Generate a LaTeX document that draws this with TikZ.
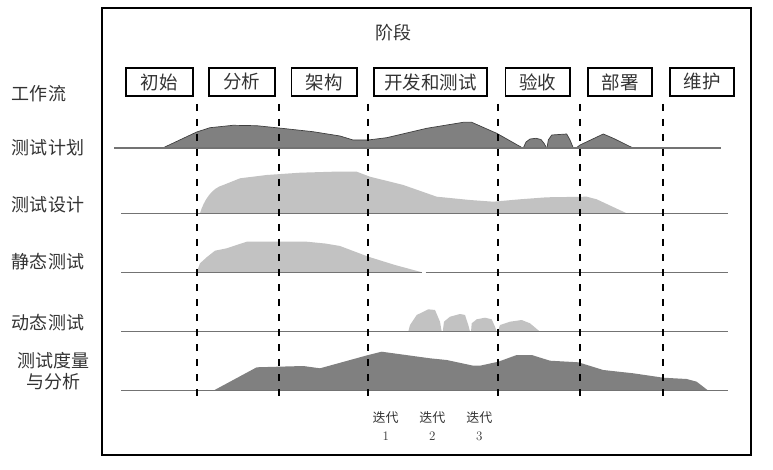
\documentclass[tikz,border=0pt]{standalone}
\usepackage{fontspec}
\newfontfamily\cjk{Noto Sans CJK SC}
\begin{document}
\begin{tikzpicture}[x=1pt,y=-1pt,
  lbl/.style={font=\cjk\fontsize{18}{21}\selectfont, text=black!80, inner sep=0pt, align=center},
  small/.style={font=\cjk\fontsize{13}{18}\selectfont, text=black!80, inner sep=0pt, align=center},
  phase/.style={draw=black, line width=1.6pt, font=\cjk\fontsize{18.5}{20}\selectfont, minimum height=28pt, inner sep=0pt, text=black!80},
  base/.style={draw=black!55, line width=1.3pt},
  divider/.style={draw=black, line width=1.8pt, dash pattern=on 7pt off 8pt},
  darkfill/.style={fill=black!50, draw=black!75, line width=0.7pt, line join=round},
  metricfill/.style={fill=black!50, draw=none},
  lightfill/.style={fill=black!24, draw=none}]
\useasboundingbox (0,0) rectangle (773,470);
\draw[line width=1.8pt] (102,8) rectangle (751,455);

% title and phases
\node[lbl] (stage) at (393,33) {阶段};
\node[phase, minimum width=66.6pt] (p1) at (159.4,82) {初始};
\node[phase, minimum width=66.2pt] (p2) at (241.8,82) {分析};
\node[phase, minimum width=65.3pt] (p3) at (324.3,82) {架构};
\node[phase, minimum width=113pt] (p4) at (430.4,82) {开发和测试};
\node[phase, minimum width=64.5pt] (p5) at (537.6,82) {验收};
\node[phase, minimum width=64pt] (p6) at (620,82) {部署};
\node[phase, minimum width=64.5pt] (p7) at (702,82) {维护};

% workflow labels
\node[lbl] (wf) at (39,93.3) {工作流};
\node[lbl] (w1) at (48,148) {测试计划};
\node[lbl] (w2) at (48,205) {测试设计};
\node[lbl] (w3) at (48,262) {静态测试};
\node[lbl] (w4) at (48,323) {动态测试};
\node[lbl] (w5) at (53.5,371.5) {测试度量\\与分析};

% test planning (dark, outlined)
\path[darkfill] (162.7,148) -- (196.7,132) -- (210,127.7) -- (233,125.3) -- (256.7,125.7) -- (279,128) -- (313,131.7) -- (340,136) -- (353,140) -- (368,140) -- (386.7,137.7) -- (426.7,128.3) -- (463.3,122.3) -- (471.7,122.3) -- (496.7,133.3) -- (522.7,148) -- cycle;
\path[darkfill] (523.3,148) -- (526,142) -- (530,139) -- (536,138.3) -- (541,139.5) -- (544,143.3) -- (546.7,148) -- cycle;
\path[darkfill] (547,148) -- (548.3,140) -- (551.7,135) -- (566.7,134) -- (570,140) -- (573.3,148) -- cycle;
\path[darkfill] (576,148) -- (580,145) -- (603.3,134) -- (613.3,138.3) -- (633,148) -- cycle;

% test design (light)
\path[lightfill] (200,213.3) .. controls (204,200) and (212,188) .. (223.3,185) -- (240,178.3) -- (266.7,175) -- (300,172.7) -- (333.3,171.7) -- (356.7,171.7) -- (370,176.7) -- (403.3,185) -- (436.7,196.7) -- (470,200) -- (493.3,201.7) -- (520,199.3) -- (546.7,197.3) -- (586.7,196.7) -- (596.7,199.3) -- (626.7,213.3) -- cycle;

% static testing (light)
\path[lightfill] (196.7,272.3) -- (200,263.3) -- (207,257) -- (215,250.7) -- (226.7,248.3) -- (246.7,241.7) -- (306.7,241.7) -- (325,243.5) -- (340,246) -- (368.3,256.7) -- (395,265) -- (422,272.3) -- cycle;

% dynamic testing (light bumps)
\path[lightfill] (408.3,331.7) -- (410,325) -- (416.7,315) -- (428.3,309.3) -- (435,310) -- (440,321.7) -- (441.7,331.7) -- cycle;
\path[lightfill] (442.7,331.7) -- (444,321.7) -- (450,316.7) -- (460,314) -- (465,315) -- (468.3,325) -- (470,331.7) -- cycle;
\path[lightfill] (471,331.7) -- (471.7,323.3) -- (476.7,319.3) -- (485,317.7) -- (491.7,319.3) -- (495,326.7) -- (496.7,331.7) -- cycle;
\path[lightfill] (497.7,331.7) -- (500,325) -- (510,321.7) -- (521.7,320) -- (530,323.3) -- (540,331.7) -- cycle;

% metrics and analysis (dark)
\path[metricfill] (213.3,390.7) -- (256.7,367.3) -- (303.3,366) -- (320,368.3) -- (368.3,355) -- (381.7,351.7) -- (430,358.3) -- (446.7,360) -- (473.3,365.7) -- (480,365.7) -- (498.3,361.7) -- (516.7,355) -- (531.7,355) -- (550,360.7) -- (578.3,362.3) -- (603.3,370) -- (633.3,373.3) -- (663.3,377.7) -- (686.7,379) -- (696.7,381.7) -- (708.3,390.7) -- cycle;

% baselines
\coordinate (b1a) at (114,148);   \coordinate (b1b) at (721,148);
\coordinate (b2a) at (121,213.3); \coordinate (b2b) at (728,213.3);
\coordinate (b3a) at (121,272.3); \coordinate (b3m) at (422,272.3);
\coordinate (b3n) at (425.5,272.3); \coordinate (b3b) at (728,272.3);
\coordinate (b4a) at (121,331.7); \coordinate (b4b) at (728,331.7);
\coordinate (b5a) at (121,390.7); \coordinate (b5b) at (728,390.7);
\draw[base] (b1a) -- (b1b);
\draw[base] (b2a) -- (b2b);
\draw[base] (b3a) -- (b3m);
\draw[base] (b3n) -- (b3b);
\draw[base] (b4a) -- (b4b);
\draw[base] (b5a) -- (b5b);

% phase dividers
\foreach \x/\n in {196.8/1,279.3/2,368.2/3,497.8/4,580.2/5,662.8/6} {
  \coordinate (d\n t) at (\x,104);
  \coordinate (d\n b) at (\x,397);
  \draw[divider] (d\n t) -- (d\n b);
}

% iteration labels
\node[small] (it1) at (385.7,426) {迭代\\\rmfamily 1};
\node[small] (it2) at (432.3,426) {迭代\\\rmfamily 2};
\node[small] (it3) at (479.3,426) {迭代\\\rmfamily 3};
\end{tikzpicture}
\end{document}
